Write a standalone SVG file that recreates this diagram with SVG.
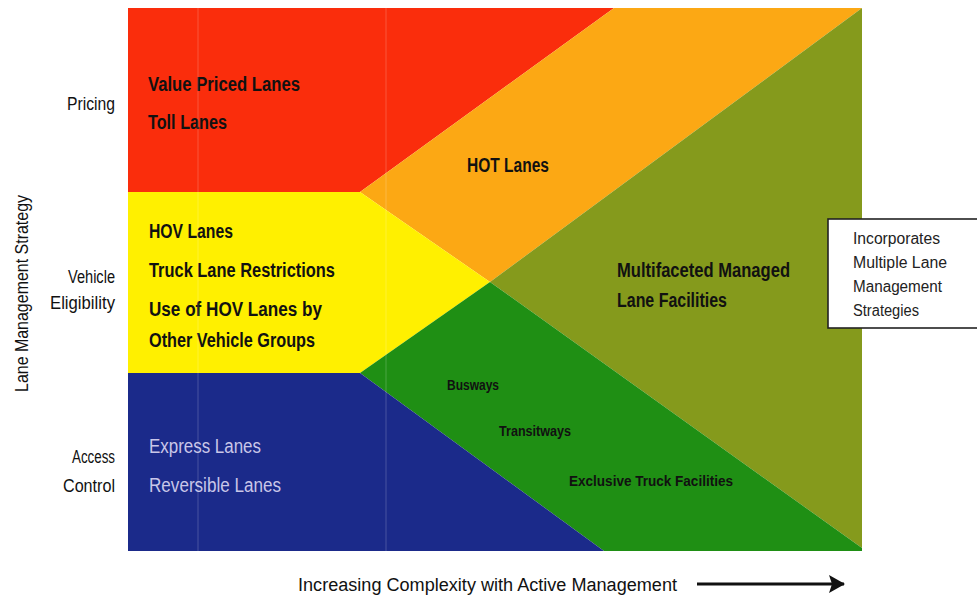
<svg xmlns="http://www.w3.org/2000/svg" width="977" height="601" viewBox="0 0 977 601">
<style>
text{font-family:"Liberation Sans Narrow","Liberation Sans",Arial,sans-serif;fill:#111;}
.lbl{font-size:20px;font-weight:bold;}
.ax{font-size:18px;}
.sm{font-size:14px;font-weight:bold;}
.box{font-size:16px;fill:#222;}
.wt{font-size:20px;fill:#c9c6e8;}
.fl{fill:#ffffff;opacity:0.2;}
</style>
<defs>
<marker id="ah" markerWidth="16" markerHeight="18" refX="15" refY="9" orient="auto" markerUnits="userSpaceOnUse" viewBox="0 0 16 18">
<path d="M0,0 L16,9 L0,18 L3,9 Z" fill="#111"/>
</marker>
</defs>
<rect width="977" height="601" fill="#ffffff"/>

<g id="pricing">
<polygon points="128,8 614,8 360,192 128,192" fill="#fa2d0c"/>
<text class="lbl" x="148" y="91" textLength="152" lengthAdjust="spacingAndGlyphs">Value Priced Lanes</text>
<text class="lbl" x="148" y="129" textLength="79" lengthAdjust="spacingAndGlyphs">Toll Lanes</text>
</g>

<g id="hot">
<polygon points="360,192 614,8 862,8 490,282" fill="#fca814"/>
<text class="lbl" x="467" y="172" textLength="82" lengthAdjust="spacingAndGlyphs">HOT Lanes</text>
</g>

<g id="multifaceted">
<polygon points="490,282 862,8 862,548" fill="#859a1c"/>
<text class="lbl" x="617" y="277" textLength="173" lengthAdjust="spacingAndGlyphs">Multifaceted Managed</text>
<text class="lbl" x="617" y="307" textLength="110" lengthAdjust="spacingAndGlyphs">Lane Facilities</text>
</g>

<g id="eligibility">
<polygon points="128,192 360,192 490,282 360,373 128,373" fill="#fff000"/>
<text class="lbl" x="149" y="238" textLength="84" lengthAdjust="spacingAndGlyphs">HOV Lanes</text>
<text class="lbl" x="149" y="277" textLength="186" lengthAdjust="spacingAndGlyphs">Truck Lane Restrictions</text>
<text class="lbl" x="149" y="316" textLength="173" lengthAdjust="spacingAndGlyphs">Use of HOV Lanes by</text>
<text class="lbl" x="149" y="347" textLength="166" lengthAdjust="spacingAndGlyphs">Other Vehicle Groups</text>
</g>

<g id="busways">
<polygon points="360,373 490,282 862,548 862,551 604,551" fill="#1f8f14"/>
<text class="sm" x="447" y="390" textLength="52" lengthAdjust="spacingAndGlyphs">Busways</text>
<text class="sm" x="499" y="436" textLength="72" lengthAdjust="spacingAndGlyphs">Transitways</text>
<text class="sm" x="569" y="486" textLength="164" lengthAdjust="spacingAndGlyphs">Exclusive Truck Facilities</text>
</g>

<g id="access">
<polygon points="128,373 360,373 604,551 128,551" fill="#1b2a8a"/>
<text class="wt" x="149" y="453" textLength="112" lengthAdjust="spacingAndGlyphs">Express Lanes</text>
<text class="wt" x="149" y="492" textLength="132" lengthAdjust="spacingAndGlyphs">Reversible Lanes</text>
</g>

<rect class="fl" x="197.5" y="8" width="1" height="543"/>
<rect class="fl" x="385.5" y="8" width="1" height="543"/>

<g id="axis-labels">
<text class="ax" x="115" y="110" text-anchor="end" textLength="48" lengthAdjust="spacingAndGlyphs">Pricing</text>
<text class="ax" x="115" y="283" text-anchor="end" textLength="47" lengthAdjust="spacingAndGlyphs">Vehicle</text>
<text class="ax" x="115" y="309" text-anchor="end" textLength="65" lengthAdjust="spacingAndGlyphs">Eligibility</text>
<text class="ax" x="115" y="463" text-anchor="end" textLength="43" lengthAdjust="spacingAndGlyphs">Access</text>
<text class="ax" x="115" y="492" text-anchor="end" textLength="52" lengthAdjust="spacingAndGlyphs">Control</text>
<text class="ax" transform="translate(28,392) rotate(-90)" x="0" y="0" textLength="197" lengthAdjust="spacingAndGlyphs">Lane Management Strategy</text>
<text class="ax" x="298" y="591" textLength="379" lengthAdjust="spacingAndGlyphs">Increasing Complexity with Active Management</text>
</g>

<g id="note">
<rect x="828" y="219" width="160" height="109" fill="#ffffff" stroke="#222" stroke-width="1.6"/>
<text class="box" x="853" y="244" textLength="87" lengthAdjust="spacingAndGlyphs">Incorporates</text>
<text class="box" x="853" y="268" textLength="94" lengthAdjust="spacingAndGlyphs">Multiple Lane</text>
<text class="box" x="853" y="292" textLength="89" lengthAdjust="spacingAndGlyphs">Management</text>
<text class="box" x="853" y="316" textLength="66" lengthAdjust="spacingAndGlyphs">Strategies</text>
</g>

<g id="connectors">
<line x1="697" y1="584" x2="844" y2="584" stroke="#111" stroke-width="3" marker-end="url(#ah)"/>
</g>
</svg>
